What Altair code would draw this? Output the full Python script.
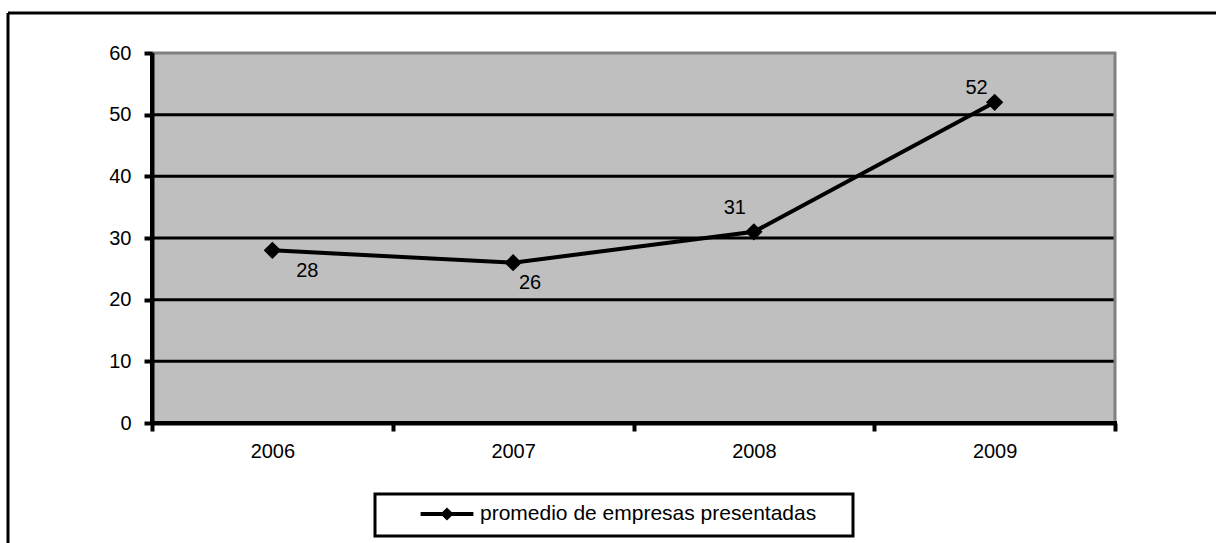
import altair as alt
import pandas as pd

# ---- data ----
years = ["2006", "2007", "2008", "2009"]
values = [28, 26, 31, 52]
y_ticks = [0, 10, 20, 30, 40, 50, 60]
grid_values = [10, 20, 30, 40, 50]
series_name = "promedio de empresas presentadas"

# ---- styles (label offsets in px, per point) ----
label_offsets = {"2006": (35, 21), "2007": (17, 20), "2008": (-19, -24), "2009": (-18, -14)}

FONT = "Liberation Sans"
W, H = 963, 370
PAD_L, PAD_T = 152, 53

df = pd.DataFrame({"year": years, "value": values, "series": [series_name] * len(years)})
grid_df = pd.DataFrame({"value": grid_values})
one = pd.DataFrame({"d": [0]})

xscale = alt.Scale(type="band", paddingInner=0, paddingOuter=0, domain=years)
yscale = alt.Scale(domain=[0, 60], nice=False, zero=True)

axis_style = dict(
    title=None, domainColor="black", domainWidth=4, tickColor="black", tickWidth=4,
    tickSize=8, labelFontSize=20, labelFont=FONT, labelColor="black", grid=False, zindex=2,
)
x_axis = alt.Axis(labelAngle=0, tickBand="extent", labelPadding=10, **axis_style)
y_axis = alt.Axis(values=y_ticks, labelPadding=13, **axis_style)

X = alt.X("year:O", scale=xscale, axis=x_axis, bandPosition=0.5)
Y = alt.Y("value:Q", scale=yscale, axis=y_axis)

grid = alt.Chart(grid_df).mark_rule(color="black", strokeWidth=3).encode(y=Y)

# gray plot-area border on top and right edges
border_top = alt.Chart(one).mark_rule(color="#808080", strokeWidth=3).encode(
    x=alt.value(0), x2=alt.value(W + 1), y=alt.value(0)
)
border_right = alt.Chart(one).mark_rule(color="#808080", strokeWidth=3).encode(
    x=alt.value(W), y=alt.value(-1), y2=alt.value(H)
)
# thick black axis lines (left and bottom)
axis_left = alt.Chart(one).mark_rule(color="black", strokeWidth=4).encode(
    x=alt.value(0), y=alt.value(0), y2=alt.value(H + 2)
)
axis_bottom = alt.Chart(one).mark_rule(color="black", strokeWidth=4).encode(
    x=alt.value(-2), x2=alt.value(W + 2), y=alt.value(H)
)

line = alt.Chart(df).mark_line(color="black", strokeWidth=4).encode(x=X, y=Y)

legend_path = "M-0.88,-0.067H0.88V0.067H-0.88Z M0,-0.22L0.22,0L0,0.22L-0.22,0Z"

points = alt.Chart(df).mark_point(shape="diamond", filled=True, size=300, opacity=1).encode(
    x=X, y=Y,
    color=alt.Color(
        "series:N", scale=alt.Scale(range=["black"]),
        legend=alt.Legend(
            title=None, orient="none", legendX=265, legendY=431, padding=0,
            symbolType=legend_path, symbolSize=3600, symbolFillColor="black",
            symbolStrokeColor="black", symbolStrokeWidth=0, labelOffset=3,
            labelFontSize=21, labelFont=FONT, labelColor="black", labelLimit=600,
        ),
    ),
)

labels = []
for yr in years:
    dx, dy = label_offsets[yr]
    labels.append(
        alt.Chart(df).transform_filter(alt.datum.year == yr)
        .mark_text(dx=dx, dy=dy, fontSize=20, font=FONT, color="black")
        .encode(x=X, y=Y, text=alt.Text("value:Q"))
    )

# outer frame (top and left edges visible) and legend box
frame_top = alt.Chart(one).mark_rule(color="black", strokeWidth=3).encode(
    x=alt.value(-144), x2=alt.value(1216 - PAD_L + 5), y=alt.value(-40)
)
frame_left = alt.Chart(one).mark_rule(color="black", strokeWidth=3).encode(
    x=alt.value(-144), y=alt.value(-40), y2=alt.value(543 - PAD_T + 5)
)
legend_box = alt.Chart(one).mark_rect(fill="white", fillOpacity=0, stroke="black", strokeWidth=3).encode(
    x=alt.value(223), x2=alt.value(701), y=alt.value(441), y2=alt.value(483)
)

chart = alt.layer(
    grid, border_top, border_right, axis_left, axis_bottom, line, points, *labels,
    frame_top, frame_left, legend_box
).properties(
    width=W, height=H,
    autosize=alt.AutoSizeParams(type="none"),
    padding={"left": PAD_L, "top": PAD_T, "right": 1216 - PAD_L - W, "bottom": 543 - PAD_T - H},
    background="white",
).configure_view(
    fill="#BEBFBE", strokeWidth=0
)

chart.save("out.html", embed_options={"renderer": "svg", "actions": False})
